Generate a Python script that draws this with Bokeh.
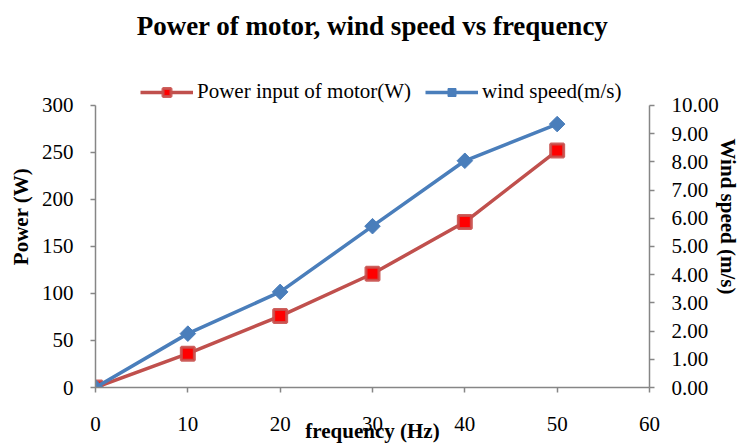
from bokeh.plotting import figure
from bokeh.models import (Range1d, LinearAxis, Legend, LegendItem, SingleIntervalTicker,
                          NumeralTickFormatter)
from bokeh.embed import file_html
from bokeh.resources import INLINE
import numpy as np

frequency = [0, 10, 20, 30, 40, 50]
power_w = [0, 36, 76, 121, 176, 252]
wind_speed = [0, 1.91, 3.39, 5.72, 8.04, 9.34]
title_text = "Power of motor, wind speed vs frequency"

FONT = "Liberation Serif"
AXIS_COLOR = "#868686"
RED = "#C0504D"
BLUE = "#4A7EBB"

# frame reaches above 300 so the legend fits; axes are bounded to 0..300 / 0..10
Y_TOP = 363.8
p = figure(width=742, height=445, output_backend="svg", toolbar_location=None,
           x_range=Range1d(0, 60), y_range=Range1d(0, Y_TOP),
           min_border_left=95, min_border_right=87, min_border_top=45, min_border_bottom=58,
           title=title_text)
p.outline_line_color = None
p.grid.visible = False
p.background_fill_color = "white"
p.border_fill_color = "white"

p.title.text_font = FONT
p.title.text_font_size = "27px"
p.title.text_font_style = "bold"
p.title.align = "center"
p.title.text_color = "black"

p.extra_y_ranges = {"wind": Range1d(0, Y_TOP / 30)}
right_axis = LinearAxis(y_range_name="wind", ticker=SingleIntervalTicker(interval=1),
                        formatter=NumeralTickFormatter(format="0.00"),
                        axis_label="Wind speed (m/s)", bounds=(0, 10))
p.add_layout(right_axis, "right")

p.xaxis.ticker = SingleIntervalTicker(interval=10)
p.yaxis[0].ticker = SingleIntervalTicker(interval=50)
p.yaxis[0].bounds = (0, 300)
p.xaxis.axis_label = "frequency (Hz)"
p.yaxis[0].axis_label = "Power (W)"

for ax in p.axis:
    ax.axis_line_color = AXIS_COLOR
    ax.axis_line_width = 1.5
    ax.major_tick_line_color = AXIS_COLOR
    ax.major_tick_line_width = 1.5
    ax.major_tick_out = 5
    ax.major_tick_in = 0
    ax.minor_tick_line_color = None
    ax.major_label_text_font = FONT
    ax.major_label_text_font_size = "21px"
    ax.major_label_text_color = "black"
    ax.axis_label_text_font = FONT
    ax.axis_label_text_font_size = "21px"
    ax.axis_label_text_font_style = "bold"
    ax.axis_label_text_color = "black"
    ax.major_label_standoff = 17
    ax.axis_label_standoff = 6

p.xaxis.major_label_standoff = 24
p.xaxis.axis_label_standoff = -15
right_axis.axis_label_standoff = -6

l1 = p.line(frequency, power_w, line_color=RED, line_width=3.5)
m1 = p.scatter(frequency, power_w, marker="square", size=13, fill_color="#FF0000",
               line_color="#C8504D", line_width=3, line_alpha=0.9)
l2 = p.line(frequency, [v * 30 for v in wind_speed], line_color=BLUE, line_width=3.5)
m2 = p.scatter(frequency, [v * 30 for v in wind_speed], marker="square", angle=np.pi / 4,
               size=11, fill_color=BLUE, line_color=BLUE, line_width=1)

legend = Legend(items=[LegendItem(label="Power input of motor(W)", renderers=[l1, m1]),
                       LegendItem(label="wind speed(m/s)", renderers=[l2, m2])],
                orientation="horizontal", location=(45, 283))
legend.border_line_color = None
legend.background_fill_alpha = 0
legend.padding = 0
legend.margin = 0
legend.spacing = 14
legend.glyph_width = 53
legend.glyph_height = 20
legend.label_height = 20
legend.label_standoff = 4
legend.label_text_font = FONT
legend.label_text_font_size = "21px"
legend.label_text_color = "black"
p.add_layout(legend, "center")

open("out.html", "w").write(file_html(p, INLINE))
